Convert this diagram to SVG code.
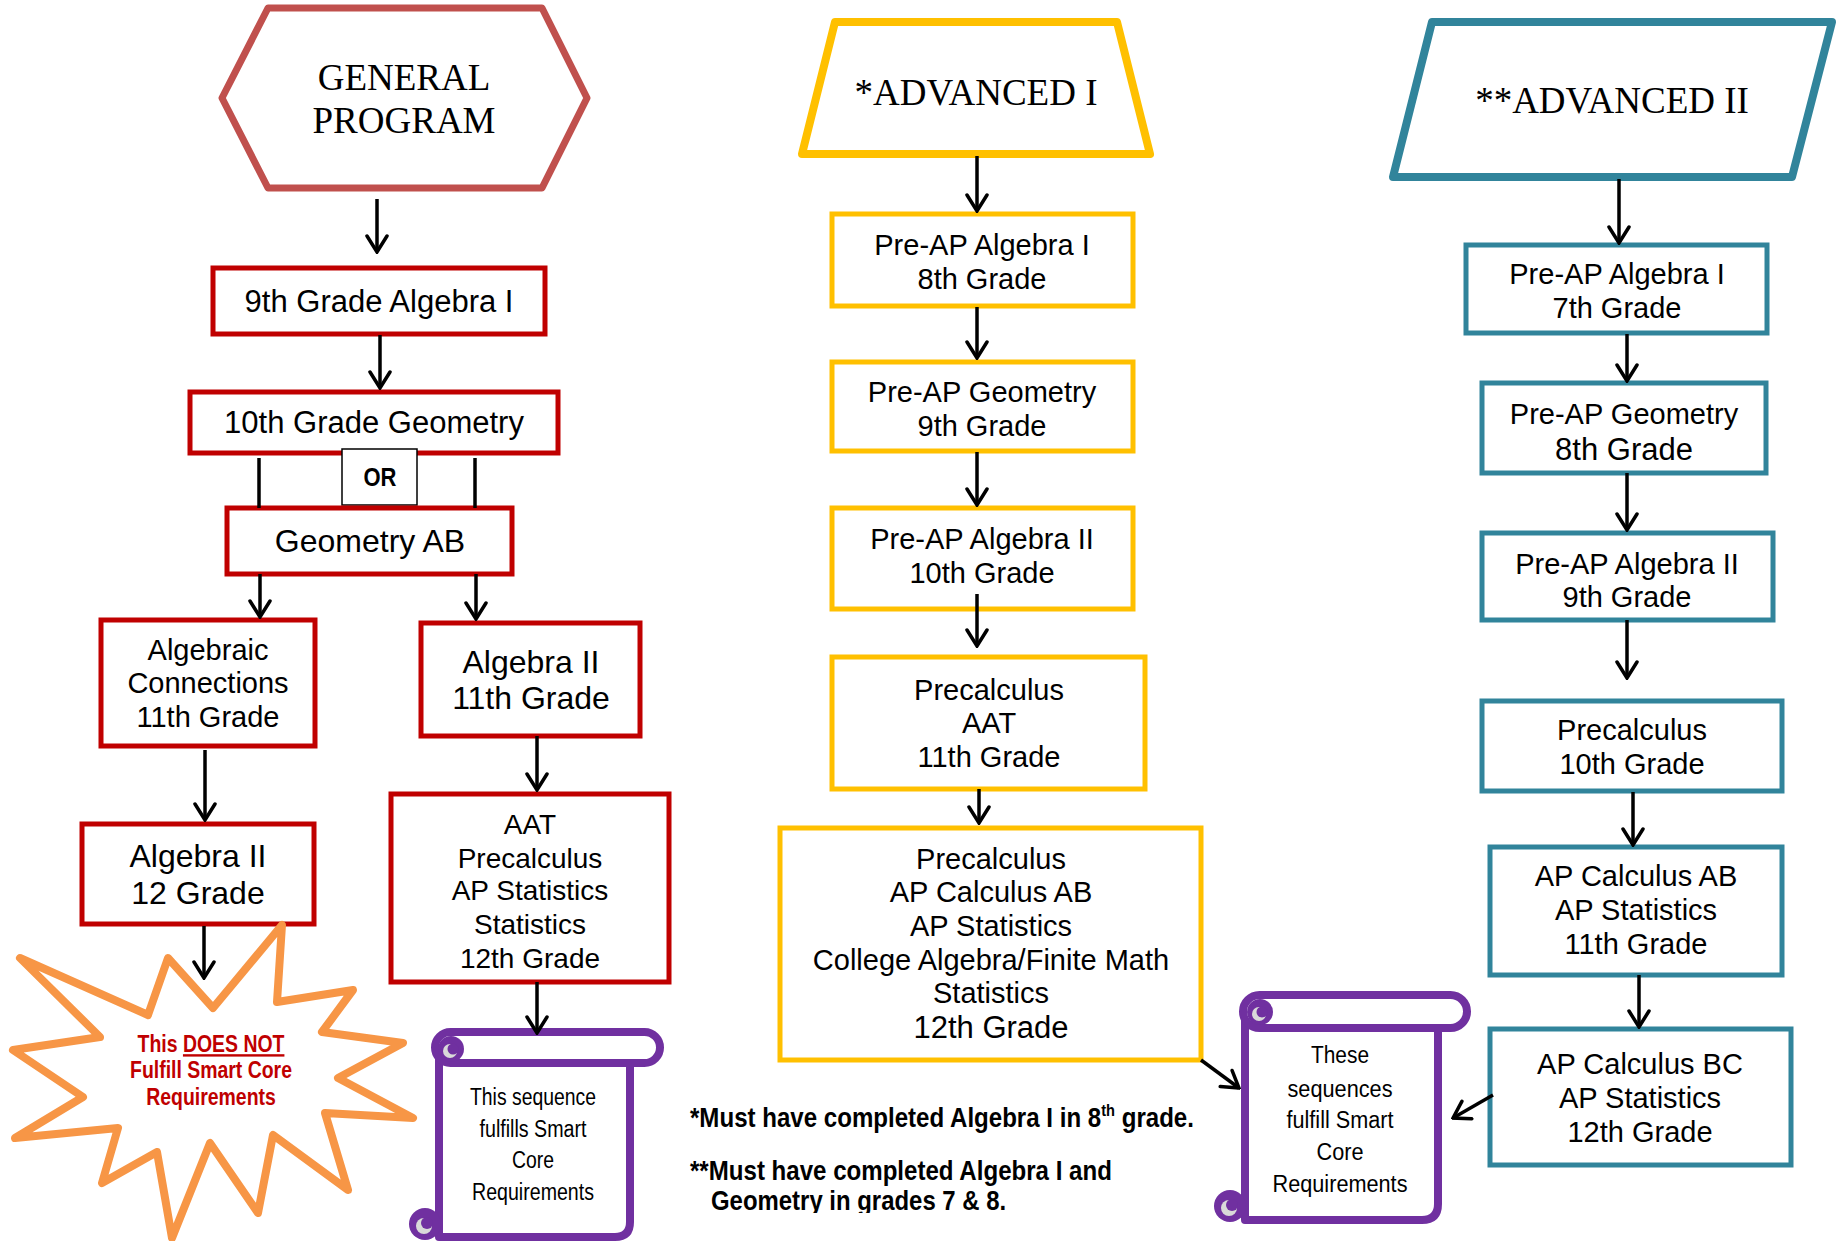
<svg xmlns="http://www.w3.org/2000/svg" width="1837" height="1241" viewBox="0 0 1837 1241">
<style>
.bg{fill:#fff}
.red{fill:#fff;stroke:#C00000;stroke-width:5}
.yel{fill:#fff;stroke:#FFC000;stroke-width:5}
.teal{fill:#fff;stroke:#31849B;stroke-width:5}
.t{font-family:"Liberation Sans",Arial,sans-serif;fill:#000;text-anchor:middle}
.h{font-family:"Liberation Serif","Times New Roman",serif;fill:#000;text-anchor:middle;font-size:37px}
.n{font-family:"Liberation Sans",Arial,sans-serif;fill:#000;text-anchor:middle;font-size:23px}
.fn{font-family:"Liberation Sans",Arial,sans-serif;font-weight:bold;font-size:28px;fill:#000}
.conn line,.conn path{stroke:#000;stroke-width:3.5;fill:none}
.scroll{fill:#fff;stroke:#7030A0;stroke-width:8;stroke-linejoin:round}
.curl{fill:#7030A0}
.cres{fill:#D9D9D9}
</style>
<defs>
<marker id="ah" viewBox="0 0 20 24" refX="18" refY="12" markerWidth="20" markerHeight="24" markerUnits="userSpaceOnUse" orient="auto">
<path d="M2,2 L18,12 L2,22" fill="none" stroke="#000" stroke-width="3.5" stroke-linecap="round" stroke-linejoin="miter"/>
</marker>
<clipPath id="fnclip"><rect x="600" y="1060" width="600" height="153"/></clipPath>
</defs>
<rect class="bg" x="0" y="0" width="1837" height="1241"/>

<!-- General program column -->
<g id="general-program">
<polygon points="268,8 542,8 587,98 542,188 268,188 222,98" fill="#fff" stroke="#C0504D" stroke-width="7" stroke-linejoin="round"/>
<text class="h" x="404" y="90">GENERAL</text>
<text class="h" x="404" y="133">PROGRAM</text>
</g>
<g id="g9-algebra1">
<rect class="red" x="213" y="268" width="332" height="66"/>
<text class="t" x="379" y="312" font-size="31">9th Grade Algebra I</text>
</g>
<g id="g10-geometry">
<rect class="red" x="190" y="392" width="368" height="61"/>
<text class="t" x="374" y="433" font-size="31">10th Grade Geometry</text>
</g>
<g id="or-label">
<rect x="342" y="449" width="75" height="56" fill="#fff" stroke="#000" stroke-width="1.5"/>
<text class="t" transform="translate(380,486) scale(0.88,1)" font-size="25" font-weight="bold">OR</text>
</g>
<g id="geometry-ab">
<rect class="red" x="227" y="508" width="285" height="66"/>
<text class="t" x="370" y="552" font-size="32">Geometry AB</text>
</g>
<g id="algebraic-connections">
<rect class="red" x="101" y="620" width="214" height="126"/>
<text class="t" x="208" y="660" font-size="29">Algebraic</text>
<text class="t" x="208" y="693" font-size="29">Connections</text>
<text class="t" x="208" y="727" font-size="29">11th Grade</text>
</g>
<g id="algebra2-11">
<rect class="red" x="421" y="623" width="219" height="113"/>
<text class="t" x="531" y="673" font-size="32">Algebra II</text>
<text class="t" x="531" y="709" font-size="32">11th Grade</text>
</g>
<g id="algebra2-12">
<rect class="red" x="82" y="824" width="232" height="100"/>
<text class="t" x="198" y="867" font-size="32">Algebra II</text>
<text class="t" x="198" y="904" font-size="32">12 Grade</text>
</g>
<g id="aat-12">
<rect class="red" x="391" y="794" width="278" height="188"/>
<text class="t" x="530" y="834" font-size="28">AAT</text>
<text class="t" x="530" y="868" font-size="28">Precalculus</text>
<text class="t" x="530" y="900" font-size="28">AP Statistics</text>
<text class="t" x="530" y="934" font-size="28">Statistics</text>
<text class="t" x="530" y="968" font-size="28">12th Grade</text>
</g>
<g id="does-not-fulfill">
<polygon points="20,958 148,1015 168,958 213,1008 282,925 277,1002 353,990 322,1032 403,1043 338,1078 413,1118 325,1113 348,1190 273,1135 258,1213 210,1143 172,1238 157,1152 102,1183 118,1128 15,1138 83,1097 13,1050 100,1037" fill="#fff" stroke="#F79646" stroke-width="8" stroke-linejoin="round"/>
<g font-family="'Liberation Sans',Arial,sans-serif" font-weight="bold" font-size="24" fill="#C00000" text-anchor="middle">
<text transform="translate(211,1052) scale(0.81,1)">This <tspan text-decoration="underline">DOES NOT</tspan></text>
<text transform="translate(211,1078) scale(0.81,1)">Fulfill Smart Core</text>
<text transform="translate(211,1105) scale(0.81,1)">Requirements</text>
</g>
</g>
<g id="scroll-general">
<path class="scroll" d="M439,1047 L439,1237 L615,1237 Q630,1237 630,1222 L630,1063"/>
<rect class="scroll" x="435" y="1032" width="225" height="31" rx="15.5"/>
<circle class="curl" cx="451" cy="1049" r="13"/>
<circle class="cres" cx="450" cy="1051" r="7"/>
<circle class="curl" cx="453" cy="1049" r="5.5"/>
<circle class="curl" cx="425" cy="1224" r="16"/>
<circle class="cres" cx="424" cy="1226" r="8"/>
<circle class="curl" cx="427" cy="1223" r="6"/>
<text class="n" x="533" y="1105" textLength="126" lengthAdjust="spacingAndGlyphs">This sequence</text>
<text class="n" x="533" y="1137" textLength="107" lengthAdjust="spacingAndGlyphs">fulfills Smart</text>
<text class="n" x="533" y="1168" textLength="42" lengthAdjust="spacingAndGlyphs">Core</text>
<text class="n" x="533" y="1200" textLength="122" lengthAdjust="spacingAndGlyphs">Requirements</text>
</g>

<!-- Advanced I column -->
<g id="advanced-1">
<polygon points="835,22 1117,22 1150,154 802,154" fill="#fff" stroke="#FFC000" stroke-width="8" stroke-linejoin="round"/>
<text class="h" x="976" y="105">*ADVANCED I</text>
</g>
<g id="a1-algebra1">
<rect class="yel" x="832" y="214" width="301" height="92"/>
<text class="t" x="982" y="255" font-size="29">Pre-AP Algebra I</text>
<text class="t" x="982" y="289" font-size="29">8th Grade</text>
</g>
<g id="a1-geometry">
<rect class="yel" x="832" y="362" width="301" height="89"/>
<text class="t" x="982" y="402" font-size="29">Pre-AP Geometry</text>
<text class="t" x="982" y="436" font-size="29">9th Grade</text>
</g>
<g id="a1-algebra2">
<rect class="yel" x="832" y="508" width="301" height="101"/>
<text class="t" x="982" y="549" font-size="29">Pre-AP Algebra II</text>
<text class="t" x="982" y="583" font-size="29">10th Grade</text>
</g>
<g id="a1-precalc">
<rect class="yel" x="832" y="657" width="313" height="132"/>
<text class="t" x="989" y="700" font-size="29">Precalculus</text>
<text class="t" x="989" y="733" font-size="29">AAT</text>
<text class="t" x="989" y="767" font-size="29">11th Grade</text>
</g>
<g id="a1-12">
<rect class="yel" x="780" y="828" width="421" height="232"/>
<text class="t" x="991" y="869" font-size="29">Precalculus</text>
<text class="t" x="991" y="902" font-size="29">AP Calculus AB</text>
<text class="t" x="991" y="936" font-size="29">AP Statistics</text>
<text class="t" x="991" y="970" font-size="29">College Algebra/Finite Math</text>
<text class="t" x="991" y="1003" font-size="29">Statistics</text>
<text class="t" x="991" y="1038" font-size="31">12th Grade</text>
</g>
<g id="footnotes">
<text class="fn" transform="translate(690,1127) scale(0.86,1)">*Must have completed Algebra I in 8<tspan font-size="17" dy="-11">th</tspan><tspan dy="11"> grade.</tspan></text>
<text class="fn" transform="translate(690,1180) scale(0.86,1)">**Must have completed Algebra I and</text>
<g clip-path="url(#fnclip)">
<text class="fn" transform="translate(711,1210) scale(0.855,1)">Geometry in grades 7 &amp; 8.</text>
</g>
</g>

<!-- Advanced II column -->
<g id="advanced-2">
<polygon points="1432,22 1832,22 1792,177 1393,177" fill="#fff" stroke="#31849B" stroke-width="8" stroke-linejoin="round"/>
<text class="h" x="1612" y="113">**ADVANCED II</text>
</g>
<g id="a2-algebra1">
<rect class="teal" x="1466" y="245" width="301" height="88"/>
<text class="t" x="1617" y="284" font-size="29">Pre-AP Algebra I</text>
<text class="t" x="1617" y="318" font-size="29">7th Grade</text>
</g>
<g id="a2-geometry">
<rect class="teal" x="1482" y="383" width="284" height="90"/>
<text class="t" x="1624" y="424" font-size="29">Pre-AP Geometry</text>
<text class="t" x="1624" y="460" font-size="31">8th Grade</text>
</g>
<g id="a2-algebra2">
<rect class="teal" x="1482" y="533" width="291" height="87"/>
<text class="t" x="1627" y="574" font-size="29">Pre-AP Algebra II</text>
<text class="t" x="1627" y="607" font-size="29">9th Grade</text>
</g>
<g id="a2-precalc">
<rect class="teal" x="1482" y="701" width="300" height="90"/>
<text class="t" x="1632" y="740" font-size="29">Precalculus</text>
<text class="t" x="1632" y="774" font-size="29">10th Grade</text>
</g>
<g id="a2-11">
<rect class="teal" x="1490" y="847" width="292" height="128"/>
<text class="t" x="1636" y="886" font-size="29">AP Calculus AB</text>
<text class="t" x="1636" y="920" font-size="29">AP Statistics</text>
<text class="t" x="1636" y="954" font-size="29">11th Grade</text>
</g>
<g id="a2-12">
<rect class="teal" x="1490" y="1029" width="301" height="136"/>
<text class="t" x="1640" y="1074" font-size="29">AP Calculus BC</text>
<text class="t" x="1640" y="1108" font-size="29">AP Statistics</text>
<text class="t" x="1640" y="1142" font-size="29">12th Grade</text>
</g>
<g id="scroll-advanced">
<path class="scroll" d="M1245,1012 L1245,1220 L1422,1220 Q1438,1220 1438,1204 L1438,1028"/>
<rect class="scroll" x="1243" y="995" width="224" height="33" rx="16.5"/>
<circle class="curl" cx="1260" cy="1012" r="13"/>
<circle class="cres" cx="1259" cy="1014" r="7"/>
<circle class="curl" cx="1262" cy="1012" r="5.5"/>
<circle class="curl" cx="1230" cy="1206" r="16"/>
<circle class="cres" cx="1229" cy="1208" r="8"/>
<circle class="curl" cx="1232" cy="1205" r="6"/>
<text class="n" x="1340" y="1063" font-size="24" textLength="58" lengthAdjust="spacingAndGlyphs">These</text>
<text class="n" x="1340" y="1097" font-size="24" textLength="105" lengthAdjust="spacingAndGlyphs">sequences</text>
<text class="n" x="1340" y="1128" font-size="24" textLength="107" lengthAdjust="spacingAndGlyphs">fulfill Smart</text>
<text class="n" x="1340" y="1160" font-size="24" textLength="47" lengthAdjust="spacingAndGlyphs">Core</text>
<text class="n" x="1340" y="1192" font-size="24" textLength="135" lengthAdjust="spacingAndGlyphs">Requirements</text>
</g>

<g id="connectors" class="conn">
<line x1="259" y1="458" x2="259" y2="508"/>
<line x1="475" y1="458" x2="475" y2="508"/>
<line x1="377" y1="199" x2="377" y2="252" marker-end="url(#ah)"/>
<line x1="380" y1="335" x2="380" y2="388" marker-end="url(#ah)"/>
<line x1="260" y1="574" x2="260" y2="617" marker-end="url(#ah)"/>
<line x1="476" y1="574" x2="476" y2="619" marker-end="url(#ah)"/>
<line x1="205" y1="750" x2="205" y2="820" marker-end="url(#ah)"/>
<line x1="204" y1="926" x2="204" y2="978" marker-end="url(#ah)"/>
<line x1="537" y1="736" x2="537" y2="790" marker-end="url(#ah)"/>
<line x1="537" y1="982" x2="537" y2="1033" marker-end="url(#ah)"/>
<line x1="977" y1="156" x2="977" y2="211" marker-end="url(#ah)"/>
<line x1="977" y1="307" x2="977" y2="358" marker-end="url(#ah)"/>
<line x1="977" y1="452" x2="977" y2="505" marker-end="url(#ah)"/>
<line x1="977" y1="594" x2="977" y2="646" marker-end="url(#ah)"/>
<line x1="979" y1="789" x2="979" y2="823" marker-end="url(#ah)"/>
<line x1="1201" y1="1060" x2="1239" y2="1088" marker-end="url(#ah)"/>
<line x1="1619" y1="179" x2="1619" y2="243" marker-end="url(#ah)"/>
<line x1="1627" y1="334" x2="1627" y2="381" marker-end="url(#ah)"/>
<line x1="1627" y1="473" x2="1627" y2="530" marker-end="url(#ah)"/>
<line x1="1627" y1="620" x2="1627" y2="678" marker-end="url(#ah)"/>
<line x1="1633" y1="792" x2="1633" y2="845" marker-end="url(#ah)"/>
<line x1="1639" y1="975" x2="1639" y2="1027" marker-end="url(#ah)"/>
<line x1="1493" y1="1095" x2="1453" y2="1118" marker-end="url(#ah)"/>
</g>
</svg>
